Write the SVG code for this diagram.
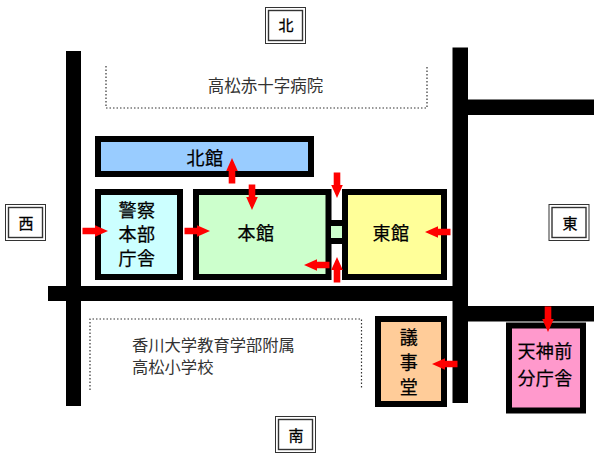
<svg xmlns="http://www.w3.org/2000/svg" width="600" height="465" viewBox="0 0 600 465">
<style>
text{font-family:"Noto Sans CJK JP","Noto Sans CJK SC",sans-serif;text-anchor:middle;fill:#000}
.b{stroke:#000;stroke-width:6;stroke-linejoin:miter}
.t{font-size:18px;letter-spacing:.4px;stroke:#000;stroke-width:.25}
.s{font-size:16.500px;fill:#333}
.s2{font-size:16.300px;fill:#333;text-anchor:start}
.d{font-size:15px;stroke:#000;stroke-width:.3}
.o{fill:#fff;stroke:#333;stroke-width:1}
.i{fill:#fff;stroke:#333;stroke-width:1.4}
.dot{fill:none;stroke:#333;stroke-width:1.2;stroke-dasharray:1.5 2}
.a{fill:#f00}
</style>
<defs>
<path id="ar" class="a" d="M0 0L13 -5.800V-3.300H25.500V3.300H13V5.800Z"/>
</defs>
<g id="roads" fill="#000">
<rect x="66" y="51" width="15" height="355"/>
<rect x="48" y="286" width="420" height="15"/>
<rect x="452.500" y="47.500" width="15.500" height="355.500"/>
<rect x="468" y="99.500" width="126" height="15.500"/>
<rect x="468" y="306" width="126" height="15.500"/>
</g>
<g id="hospital">
<path class="dot" d="M106 66V108H427V67"/>
<text class="s" x="265.500" y="92">高松赤十字病院</text>
</g>
<g id="school">
<path class="dot" d="M90 390V319H361.500V389"/>
<text class="s2" x="132" y="351">香川大学教育学部附属</text>
<text class="s2" x="132" y="373">高松小学校</text>
</g>
<g id="kitakan">
<rect class="b" x="98" y="139" width="213" height="35" fill="#99ccff"/>
<text class="t" x="205" y="165">北館</text>
</g>
<g id="keisatsu">
<rect class="b" x="98" y="192" width="82" height="85" fill="#ccffff"/>
<text class="t" x="137" y="217">警察</text>
<text class="t" x="137" y="241">本部</text>
<text class="t" x="137" y="265">庁舎</text>
</g>
<g id="honkan">
<rect class="b" x="196" y="192" width="132.500" height="85" fill="#ccffcc"/>
<text class="t" x="256" y="240">本館</text>
</g>
<g id="link">
<rect x="331" y="220" width="11" height="24" fill="#000"/>
<rect x="331" y="226" width="11" height="12" fill="#ccffcc"/>
</g>
<g id="higashikan">
<rect class="b" x="345" y="192" width="99" height="85" fill="#ffff99"/>
<text class="t" x="391" y="240">東館</text>
</g>
<g id="gijido">
<rect class="b" x="378" y="319" width="66" height="85" fill="#ffcc99"/>
<text class="t" x="409" y="344">議</text>
<text class="t" x="409" y="369">事</text>
<text class="t" x="409" y="394">堂</text>
</g>
<g id="tenjinmae">
<rect class="b" x="509" y="325.500" width="74" height="85" fill="#ff99cc"/>
<text class="t" x="545" y="358">天神前</text>
<text class="t" x="545" y="385">分庁舎</text>
</g>
<g id="north">
<rect class="o" x="265.500" y="7.500" width="40" height="36"/><rect class="i" x="268.500" y="10.500" width="34" height="30"/>
<text class="d" x="286" y="31">北</text>
</g>
<g id="west">
<rect class="o" x="5.500" y="204.500" width="40" height="36"/><rect class="i" x="8.500" y="207.500" width="34" height="30"/>
<text class="d" x="26" y="229">西</text>
</g>
<g id="east">
<rect class="o" x="549" y="204.500" width="40" height="36"/><rect class="i" x="552" y="207.500" width="34" height="30"/>
<text class="d" x="570" y="229">東</text>
</g>
<g id="south">
<rect class="o" x="275.500" y="416.500" width="40" height="36"/><rect class="i" x="278.500" y="419.500" width="34" height="30"/>
<text class="d" x="296" y="441">南</text>
</g>
<g id="connectors">
<use href="#ar" transform="translate(232 158) rotate(90)"/>
<use href="#ar" transform="translate(252 210) rotate(-90)"/>
<use href="#ar" transform="translate(108 231) rotate(180)"/>
<use href="#ar" transform="translate(210 231) rotate(180)"/>
<use href="#ar" transform="translate(337 198) rotate(-90)"/>
<use href="#ar" transform="translate(337 257) rotate(90)"/>
<use href="#ar" transform="translate(304 265)"/>
<use href="#ar" transform="translate(425 232)"/>
<use href="#ar" transform="translate(432 364)"/>
<use href="#ar" transform="translate(548 332) rotate(-90)"/>
</g>
</svg>
